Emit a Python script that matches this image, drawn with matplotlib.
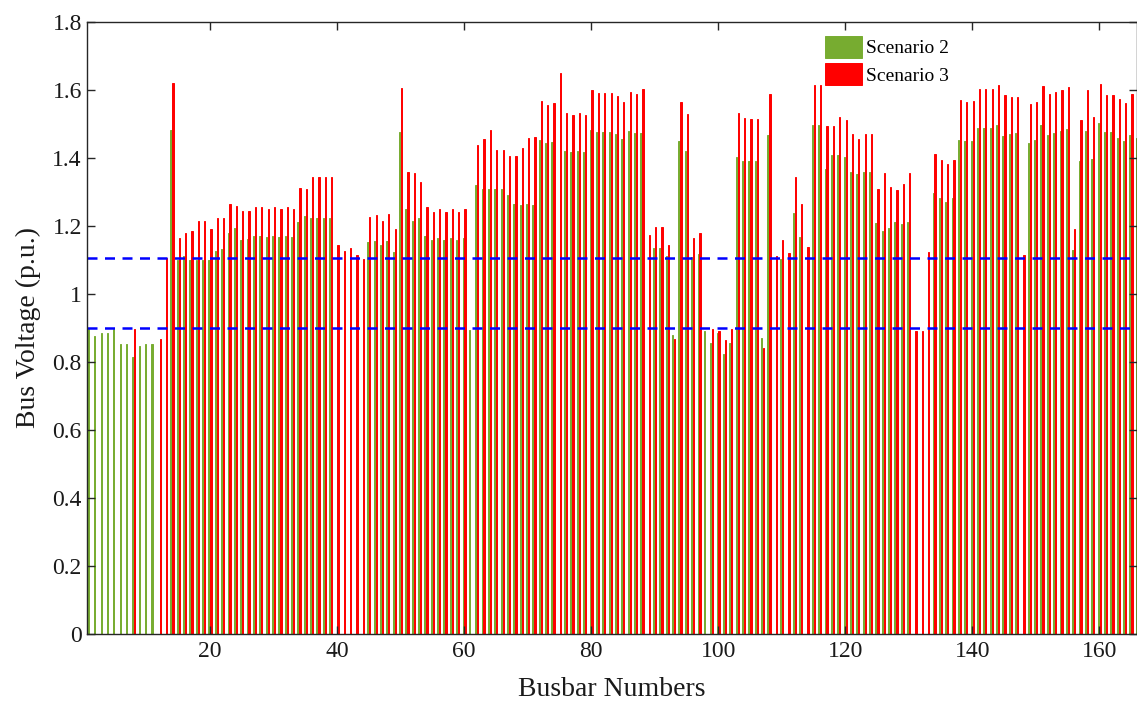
import numpy as np
import matplotlib
matplotlib.use("Agg")
import matplotlib.pyplot as plt

plt.rcParams['font.family'] = ['Liberation Serif', 'DejaVu Serif']

scenario2 = [
    0.898, 0.876, 0.885, 0.885, 0.898, 0.852, 0.852, 0.815, 0.847, 0.852,   # 1-10
    0.852, 0, 0, 1.482, 1.10, 1.113, 1.10, 1.10, 1.10, 1.10,                 # 11-20
    1.127, 1.131, 1.178, 1.193, 1.16, 1.162, 1.172, 1.172, 1.168, 1.172,     # 21-30
    1.168, 1.172, 1.168, 1.212, 1.229, 1.224, 1.224, 1.224, 1.224, 0,        # 31-40
    0, 0, 0, 0, 1.153, 1.155, 1.144, 1.157, 1.123, 1.476,                    # 41-50
    1.249, 1.216, 1.223, 1.172, 1.16, 1.166, 1.16, 1.166, 1.16, 1.166,       # 51-60
    0.894, 1.322, 1.31, 1.31, 1.31, 1.31, 1.29, 1.265, 1.262, 1.264,         # 61-70
    1.262, 1.452, 1.443, 1.448, 0, 1.422, 1.418, 1.422, 1.418, 1.482,        # 71-80
    1.475, 1.475, 1.475, 1.47, 1.456, 1.478, 1.473, 1.473, 0, 1.136,         # 81-90
    1.135, 1.113, 0.878, 1.449, 1.42, 1.108, 1.119, 0.89, 0.856, 0.885,      # 91-100
    0.823, 0.856, 1.404, 1.392, 1.39, 1.39, 0.87, 1.467, 0, 1.102,           # 101-110
    0, 1.237, 1.169, 0, 1.496, 1.498, 1.367, 1.41, 1.409, 1.402,             # 111-120
    1.36, 1.352, 1.36, 1.36, 1.209, 1.185, 1.193, 1.211, 1.207, 1.211,       # 121-130
    0, 0, 0, 1.296, 1.281, 1.271, 1.281, 1.452, 1.449, 1.449,                # 131-140
    1.487, 1.487, 1.487, 1.497, 1.464, 1.47, 1.473, 0, 1.445, 1.452,         # 141-150
    1.496, 1.467, 1.473, 1.479, 1.485, 1.129, 1.39, 1.479, 1.396, 1.502,     # 151-160
    1.477, 1.477, 1.46, 1.45, 1.468, 1.458,                                  # 161-166
]

scenario3 = [
    0, 0, 0, 0, 0, 0, 0, 0.898, 0, 0,                                        # 1-10
    0, 0.869, 1.106, 1.622, 1.165, 1.18, 1.185, 1.216, 1.214, 1.19,          # 11-20
    1.223, 1.223, 1.265, 1.26, 1.243, 1.244, 1.256, 1.256, 1.251, 1.256,     # 21-30
    1.251, 1.257, 1.251, 1.312, 1.31, 1.345, 1.345, 1.345, 1.345, 1.143,     # 31-40
    1.126, 1.134, 1.114, 1.104, 1.227, 1.231, 1.216, 1.234, 1.19, 1.607,     # 41-50
    1.358, 1.355, 1.328, 1.257, 1.241, 1.251, 1.241, 1.251, 1.241, 1.251,    # 51-60
    0, 1.438, 1.455, 1.482, 1.425, 1.423, 1.407, 1.405, 1.43, 1.458,         # 61-70
    1.461, 1.568, 1.555, 1.561, 1.651, 1.532, 1.527, 1.532, 1.527, 1.599,    # 71-80
    1.59, 1.59, 1.59, 1.582, 1.566, 1.593, 1.587, 1.602, 1.175, 1.198,       # 81-90
    1.198, 1.144, 0.869, 1.564, 1.528, 1.165, 1.18, 0, 0.896, 0.892,         # 91-100
    0.866, 0.896, 1.533, 1.519, 1.516, 1.516, 0.84, 1.589, 1.111, 1.16,      # 101-110
    1.121, 1.343, 1.266, 1.137, 1.615, 1.615, 1.494, 1.494, 1.522, 1.512,    # 111-120
    1.471, 1.455, 1.47, 1.47, 1.31, 1.355, 1.314, 1.305, 1.323, 1.355,       # 121-130
    0.891, 0.891, 1.124, 1.411, 1.393, 1.382, 1.394, 1.57, 1.565, 1.567,     # 131-140
    1.604, 1.602, 1.602, 1.614, 1.585, 1.58, 1.579, 1.114, 1.558, 1.565,     # 141-150
    1.612, 1.587, 1.594, 1.601, 1.609, 1.192, 1.512, 1.6, 1.52, 1.618,       # 151-160
    1.584, 1.584, 1.573, 1.562, 1.588, 1.59,                                 # 161-166
]

limits = [0.9, 1.105]
xticks = [20, 40, 60, 80, 100, 120, 140, 160]
yticks = [0, 0.2, 0.4, 0.6, 0.8, 1.0, 1.2, 1.4, 1.6, 1.8]
ytick_labels = ['0', '0.2', '0.4', '0.6', '0.8', '1', '1.2', '1.4', '1.6', '1.8']

green = '#77AC30'
red = '#FF0000'

buses = np.arange(1, len(scenario2) + 1)

fig = plt.figure(figsize=(11.37, 7.05), dpi=100)
ax = fig.add_axes([86.7 / 1137, 1 - 634 / 705, (1136.7 - 86.7) / 1137, (634 - 22) / 705])

off = 0.15
w = 0.2
ax.bar(buses - off, scenario2, width=w, color=green, edgecolor=green, linewidth=0.7, label='Scenario 2')
ax.bar(buses + off, scenario3, width=w, color=red, edgecolor=red, linewidth=0.7, label='Scenario 3')

for lv in limits:
    ax.axhline(lv, color='#0000FF', linestyle=(0, (4, 3)), linewidth=1.8)

ax.set_xlim(0.575, 165.9)
ax.set_ylim(0, 1.8)
ax.set_xticks(xticks)
ax.set_yticks(yticks)
ax.set_yticklabels(ytick_labels)
ax.tick_params(direction='in', length=6, width=1, labelsize=17, top=True, right=True,
               colors='#262626', labelcolor='#1a1a1a')
ax.tick_params(axis='x', pad=5)
for s in ax.spines.values():
    s.set_linewidth(1)
    s.set_color('#262626')

ax.set_xlabel('Busbar Numbers', fontsize=20, color='#1a1a1a', labelpad=11)
ax.set_ylabel('Bus Voltage (p.u.)', fontsize=20, color='#1a1a1a', labelpad=8)

leg = ax.legend(loc='upper left', bbox_to_anchor=(812 / 1137, 1 - 23 / 705),
                bbox_transform=fig.transFigure, fontsize=14, frameon=True,
                handlelength=1.9, handleheight=1.4, handletextpad=0.25,
                borderpad=0.15, labelspacing=0.25, fancybox=False)
leg.get_frame().set_edgecolor('none')
leg.get_frame().set_facecolor('white')
leg.get_frame().set_alpha(1)

fig.savefig('out.png', dpi=100)
